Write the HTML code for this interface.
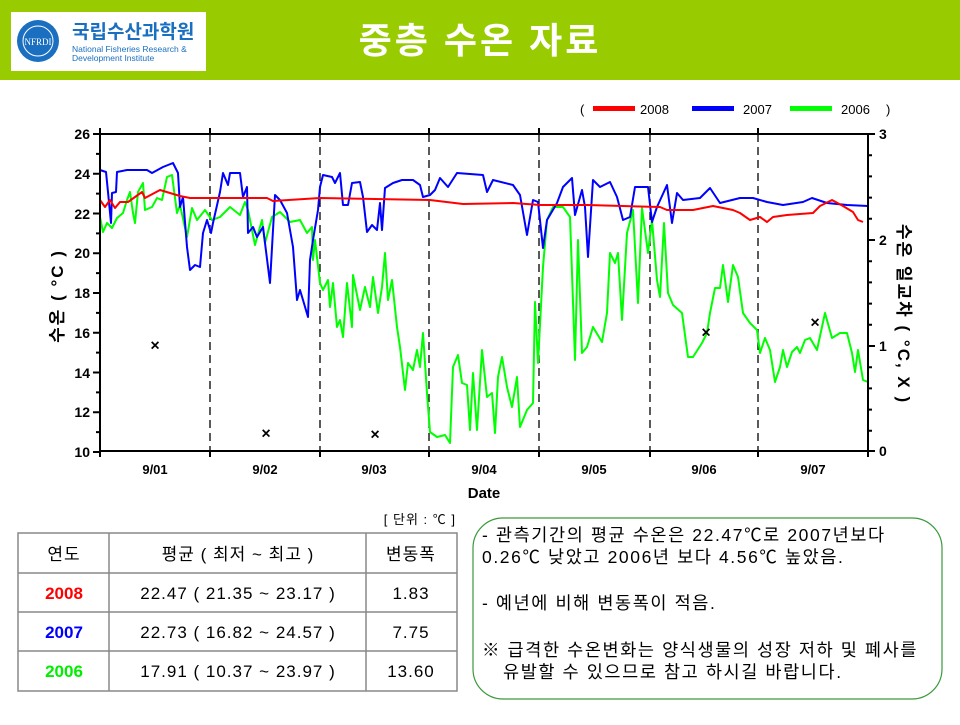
<!DOCTYPE html>
<html><head><meta charset="utf-8"><style>
body{margin:0;width:960px;height:720px;background:#fff;overflow:hidden;font-family:"Liberation Sans","Noto Sans CJK KR",sans-serif}
</style></head><body>
<svg width="960" height="720" viewBox="0 0 960 720" xmlns="http://www.w3.org/2000/svg" font-family="Liberation Sans, Noto Sans CJK KR, sans-serif">
<rect x="0" y="0" width="960" height="80" fill="#99cc00"/>
<rect x="11" y="12" width="195" height="59" fill="#fff"/>
<circle cx="38" cy="41" r="21" fill="#1a6fc0"/>
<circle cx="38" cy="41" r="15" fill="none" stroke="#fff" stroke-width="1"/>
<text x="38" y="45" font-size="9" fill="#fff" text-anchor="middle" font-family="Liberation Serif, serif">NFRDI</text>
<text x="72" y="38" font-size="19" font-weight="bold" fill="#1a6fc0">국립수산과학원</text>
<text x="72" y="52" font-size="8.5" fill="#1a6fc0">National Fisheries Research &amp;</text>
<text x="72" y="61" font-size="8.5" fill="#1a6fc0">Development Institute</text>
<text x="480" y="53" font-size="36" font-weight="bold" fill="#fff" text-anchor="middle" letter-spacing="3">중층 수온 자료</text>

<!-- legend -->
<text x="580" y="114" font-size="13">(</text>
<rect x="593" y="106" width="42" height="5" fill="#ff0000"/>
<text x="640" y="114" font-size="13">2008</text>
<rect x="692" y="106" width="42" height="5" fill="#0000ff"/>
<text x="743" y="114" font-size="13">2007</text>
<rect x="790" y="106" width="42" height="5" fill="#00ff00"/>
<text x="841" y="114" font-size="13">2006</text>
<text x="886" y="114" font-size="13">)</text>

<g stroke="#000" stroke-width="1.3" stroke-dasharray="8,5">
<line x1="210" y1="134" x2="210" y2="451"/><line x1="320" y1="134" x2="320" y2="451"/>
<line x1="429" y1="134" x2="429" y2="451"/><line x1="539" y1="134" x2="539" y2="451"/>
<line x1="650" y1="134" x2="650" y2="451"/><line x1="758" y1="134" x2="758" y2="451"/>
</g>

<g fill="none" stroke-width="2" stroke-linejoin="round">
<polyline stroke="#00ff00" points="100,217 103,232 107,223 112,228 117,218 123,213 127,200 130,192 133,213 135,223 138,192 143,183 145,210 152,207 157,198 162,200 167,177 172,175 177,213 180,205 187,237 192,208 197,220 205,210 212,220 220,217 230,207 240,215 245,202 248,210 255,245 262,220 265,243 272,217 280,212 290,222 300,220 307,233 312,227 313,260 315,240 320,283 323,290 328,280 330,307 333,283 337,327 340,320 343,337 347,283 352,327 353,275 360,310 365,287 370,307 373,277 378,313 382,287 385,253 388,300 392,280 397,327 400,347 405,390 408,363 413,370 417,350 420,367 423,333 427,393 430,432 437,437 445,435 450,443 453,367 458,355 462,383 467,385 470,430 473,373 477,430 482,350 487,397 492,393 495,433 498,377 502,357 507,387 512,407 517,377 520,427 527,410 533,403 535,302 538,363 543,267 547,220 553,207 563,207 570,217 572,273 575,360 578,240 582,353 587,347 593,327 602,342 607,313 610,253 615,263 618,253 622,320 627,233 633,210 638,303 642,208 648,253 652,220 657,280 660,297 664,223 668,293 673,305 682,313 688,357 693,357 702,343 707,333 710,313 715,288 720,288 723,265 728,302 733,265 738,277 743,313 750,323 757,330 760,353 765,338 770,350 775,382 780,367 783,350 787,367 792,352 797,347 800,353 805,340 810,338 817,350 825,313 832,338 840,333 847,333 852,353 855,372 858,350 863,380 868,382"/>
<polyline stroke="#0000ff" points="100,170 106,172 108,192 111,223 112,193 116,192 117,172 127,170 147,170 152,173 163,167 173,163 178,173 180,207 183,197 187,247 190,270 195,265 200,267 203,233 207,220 211,233 213,223 220,192 223,173 228,185 230,173 240,173 243,197 247,187 248,233 253,227 257,237 263,227 270,283 273,230 275,195 280,200 287,213 293,247 297,300 300,290 303,300 308,317 310,260 313,240 318,210 320,187 323,175 332,177 335,183 340,173 343,205 348,205 352,183 360,182 363,197 367,232 372,225 377,230 380,203 382,230 385,188 393,183 402,180 413,180 420,185 423,197 430,195 435,190 440,178 448,187 457,173 483,175 487,192 493,180 513,185 520,195 527,235 533,200 538,202 543,248 547,220 557,203 563,187 572,178 575,215 582,190 585,207 588,257 593,180 600,187 610,182 617,197 623,220 630,217 635,187 648,187 652,222 657,207 667,185 672,223 677,193 683,200 700,198 710,188 720,203 740,198 753,198 767,202 783,205 803,202 812,198 827,203 847,205 868,206"/>
<polyline stroke="#ff0000" points="100,200 105,207 110,200 115,208 120,202 128,202 142,192 145,198 160,190 180,196 190,198 267,198 273,201 320,198 430,200 463,204 513,203 540,205 587,205 660,207 667,210 693,210 713,206 733,210 740,213 750,220 760,217 767,222 773,217 787,215 813,213 820,206 832,200 843,206 853,212 858,220 863,222"/>
</g>

<g font-size="16" font-weight="bold" text-anchor="middle" dominant-baseline="central">
<text x="155" y="346">×</text><text x="266" y="434">×</text><text x="375" y="435">×</text><text x="706" y="333">×</text><text x="815" y="323">×</text>
</g>

<!-- frame -->
<g stroke="#000" stroke-width="2" fill="none">
<line x1="100" y1="134" x2="868" y2="134"/>
<line x1="100" y1="451" x2="868" y2="451"/>
<line x1="100" y1="133" x2="100" y2="452"/>
<line x1="868" y1="133" x2="868" y2="452"/>
</g>
<g stroke="#000" stroke-width="2">
<path d="M100,451v6M210,451v6M320,451v6M429,451v6M539,451v6M650,451v6M758,451v6M868,451v6M100,134v-6M210,134v-6M320,134v-6M429,134v-6M539,134v-6M650,134v-6M758,134v-6"/>
<path d="M93,134h7M93,173.75h7M93,213.5h7M93,253.25h7M93,293h7M93,332.75h7M93,372.5h7M93,412.25h7M93,452h7"/>
<path d="M96,153.9h4M96,193.6h4M96,233.4h4M96,273.1h4M96,312.9h4M96,352.6h4M96,392.4h4M96,432.1h4"/>
<path d="M868,134h7M868,240h7M868,346h7M868,451h7"/>
<path d="M868,155.2h4M868,176.4h4M868,197.6h4M868,218.8h4M868,261.2h4M868,282.4h4M868,303.6h4M868,324.8h4M868,367.2h4M868,388.4h4M868,409.6h4M868,430.8h4"/>
</g>
<g font-size="14" font-weight="bold" text-anchor="end">
<text x="90" y="139">26</text><text x="90" y="179">24</text><text x="90" y="219">22</text><text x="90" y="258">20</text><text x="90" y="298">18</text><text x="90" y="338">16</text><text x="90" y="378">14</text><text x="90" y="417">12</text><text x="90" y="457">10</text>
</g>
<g font-size="14" font-weight="bold">
<text x="879" y="139">3</text><text x="879" y="245">2</text><text x="879" y="351">1</text><text x="879" y="456">0</text>
</g>
<g font-size="13" font-weight="bold" text-anchor="middle">
<text x="155" y="474">9/01</text><text x="265" y="474">9/02</text><text x="374" y="474">9/03</text><text x="484" y="474">9/04</text><text x="594" y="474">9/05</text><text x="704" y="474">9/06</text><text x="813" y="474">9/07</text>
</g>
<text x="484" y="498" font-size="15" font-weight="bold" text-anchor="middle">Date</text>
<text transform="translate(63,296) rotate(-90)" font-size="17" font-weight="bold" text-anchor="middle" letter-spacing="2">수온 ( °C )</text>
<text transform="translate(898,314) rotate(90)" font-size="17" font-weight="bold" text-anchor="middle" letter-spacing="2">수온 일교차 ( °C, X )</text>

<!-- table -->
<text x="456" y="524" font-size="13" text-anchor="end" letter-spacing="1">[ 단위 : ℃ ]</text>
<g stroke="#888" stroke-width="1.5" fill="none">
<rect x="18" y="533" width="439" height="158"/>
<line x1="18" y1="573" x2="457" y2="573"/><line x1="18" y1="612" x2="457" y2="612"/><line x1="18" y1="651" x2="457" y2="651"/>
<line x1="109" y1="533" x2="109" y2="691"/><line x1="366" y1="533" x2="366" y2="691"/>
</g>
<g font-size="17" text-anchor="middle" letter-spacing="1">
<text x="64" y="560">연도</text><text x="238" y="560">평균 ( 최저 ~ 최고 )</text><text x="411" y="560">변동폭</text>
<text x="64" y="599" fill="#ff0000" font-weight="bold" letter-spacing="0">2008</text><text x="238" y="599">22.47 ( 21.35 ~ 23.17 )</text><text x="411" y="599">1.83</text>
<text x="64" y="638" fill="#0000ff" font-weight="bold" letter-spacing="0">2007</text><text x="238" y="638">22.73 ( 16.82 ~ 24.57 )</text><text x="411" y="638">7.75</text>
<text x="64" y="677" fill="#00ee00" font-weight="bold" letter-spacing="0">2006</text><text x="238" y="677">17.91 ( 10.37 ~ 23.97 )</text><text x="411" y="677">13.60</text>
</g>

<rect x="473" y="518" width="469" height="181" rx="30" ry="30" fill="none" stroke="#3a9a3a" stroke-width="1.2"/>
<g font-size="17.5" letter-spacing="1.6">
<text x="482" y="541">- 관측기간의 평균 수온은 22.47℃로 2007년보다</text>
<text x="482" y="563">0.26℃ 낮았고 2006년 보다 4.56℃ 높았음.</text>
<text x="482" y="609">- 예년에 비해 변동폭이 적음.</text>
<text x="482" y="656">※ 급격한 수온변화는 양식생물의 성장 저하 및 폐사를</text>
<text x="503" y="678">유발할 수 있으므로 참고 하시길 바랍니다.</text>
</g>
</svg>
</body></html>
